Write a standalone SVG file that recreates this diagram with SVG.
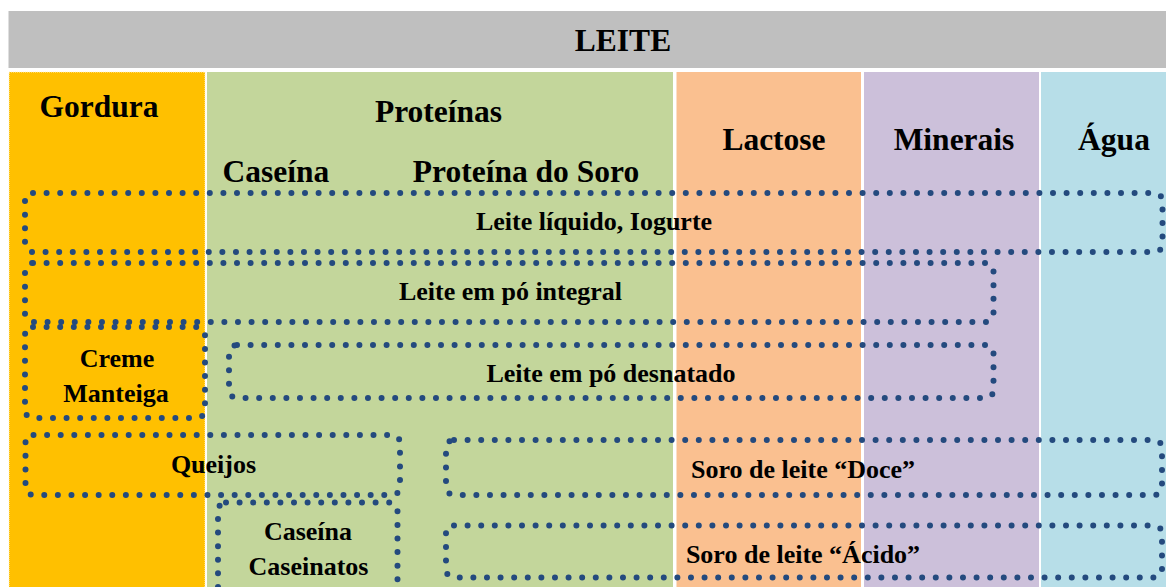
<svg xmlns="http://www.w3.org/2000/svg" width="1166" height="587" viewBox="0 0 1166 587">
<style>
.h{font-family:"Liberation Serif","Times New Roman",serif;font-weight:bold;font-size:31.5px;fill:#000;text-anchor:middle}
.t{font-family:"Liberation Serif","Times New Roman",serif;font-weight:bold;font-size:26px;fill:#000;text-anchor:middle}
.d{fill:none;stroke:#244A7E;stroke-width:6;stroke-linecap:round;stroke-dasharray:0 13.6}
</style>
<rect x="0" y="0" width="1166" height="587" fill="#FFFFFF"/>
<g id="leite">
<rect x="8.5" y="11" width="1158" height="57" fill="#BFBFBF"/>
<text class="h" x="623" y="51">LEITE</text>
</g>
<g id="gordura">
<rect x="9" y="72" width="196" height="520" fill="#FFC000" stroke="#FFF2CC" stroke-width="1" stroke-dasharray="1 1"/>
<text class="h" x="99" y="117">Gordura</text>
</g>
<g id="proteinas">
<rect x="207" y="72" width="466" height="520" fill="#C3D69B"/>
<text class="h" x="438.5" y="122">Proteínas</text>
<text class="h" x="276" y="182">Caseína</text>
<text class="h" x="526" y="182">Proteína do Soro</text>
</g>
<g id="lactose">
<rect x="676.5" y="72" width="184.5" height="520" fill="#FAC090"/>
<text class="h" x="774" y="150">Lactose</text>
</g>
<g id="minerais">
<rect x="864" y="72" width="175" height="520" fill="#CCC0DA"/>
<text class="h" x="954" y="150">Minerais</text>
</g>
<g id="agua">
<rect x="1041" y="72" width="125" height="520" fill="#B7DEE8"/>
<text class="h" x="1114" y="150">Água</text>
</g>
<g id="connectors">
<rect class="d" x="25" y="193" width="1137.5" height="59" rx="8"/>
<rect class="d" x="25" y="263" width="968.5" height="59" rx="8"/>
<rect class="d" x="25" y="327" width="180" height="91" rx="8"/>
<rect class="d" x="229" y="345" width="764.5" height="53" rx="8"/>
<rect class="d" x="25.5" y="435" width="374.5" height="60" rx="8"/>
<rect class="d" x="218" y="502.5" width="179.5" height="110" rx="8"/>
<rect class="d" x="446" y="440" width="716" height="55" rx="8"/>
<rect class="d" x="446" y="525.5" width="716" height="52" rx="8"/>
</g>
<g id="leite-liquido"><text class="t" x="594" y="230">Leite líquido, Iogurte</text></g>
<g id="po-integral"><text class="t" x="510.5" y="300">Leite em pó integral</text></g>
<g id="creme"><text class="t" x="117" y="367">Creme</text><text class="t" x="116" y="402">Manteiga</text></g>
<g id="po-desnatado"><text class="t" x="611" y="382">Leite em pó desnatado</text></g>
<g id="queijos"><text class="t" x="213.5" y="473">Queijos</text></g>
<g id="caseinatos"><text class="t" x="308" y="540">Caseína</text><text class="t" x="308.5" y="575">Caseinatos</text></g>
<g id="soro-doce"><text class="t" x="803" y="478">Soro de leite “Doce”</text></g>
<g id="soro-acido"><text class="t" x="803" y="563">Soro de leite “Ácido”</text></g>
</svg>
